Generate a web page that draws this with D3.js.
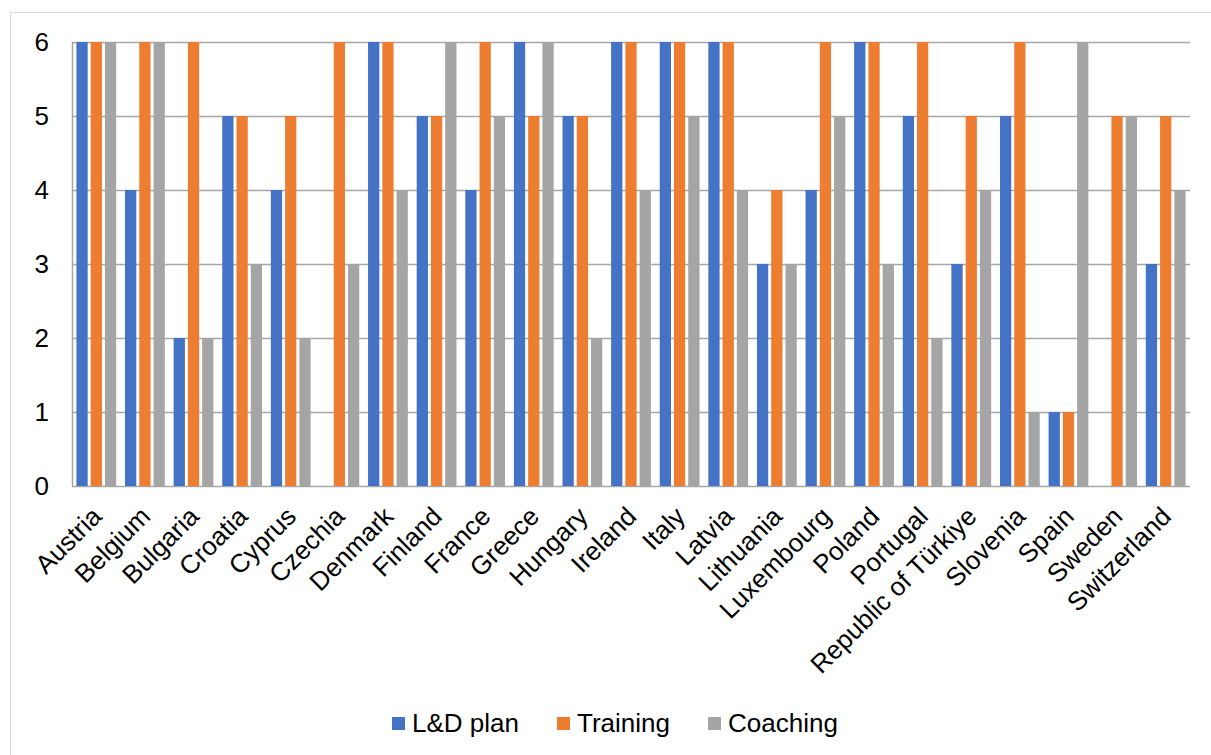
<!DOCTYPE html>
<html><head><meta charset="utf-8">
<script src="https://cdn.jsdelivr.net/npm/d3@7"></script>
<style>html,body{margin:0;padding:0;background:#fff;}svg{display:block;font-family:Arial,"Liberation Sans",sans-serif;}</style>
</head><body>
<script>
const categories = ["Austria","Belgium","Bulgaria","Croatia","Cyprus","Czechia","Denmark","Finland","France","Greece","Hungary","Ireland","Italy","Latvia","Lithuania","Luxembourg","Poland","Portugal","Republic of Türkiye","Slovenia","Spain","Sweden","Switzerland"];
const seriesNames = ["L&D plan","Training","Coaching"];
const ldPlan   = [6,4,2,5,4,0,6,5,4,6,5,6,6,6,3,4,6,5,3,5,1,0,3];
const training = [6,6,6,5,5,6,6,5,6,5,5,6,6,6,4,6,6,6,5,6,1,5,5];
const coaching = [6,6,2,3,2,3,4,6,5,6,2,4,5,4,3,5,3,2,4,1,6,5,4];
const yTicks = [0,1,2,3,4,5,6];
const colors = ["#4472C4","#ED7D31","#A5A5A5"];
const seriesValues = [ldPlan, training, coaching];

(function(){
const W = 1211, H = 755;
const svg = d3.select("body").append("svg").attr("width", W).attr("height", H);

// outer chart border
svg.append("rect").attr("x",10.5).attr("y",12.5).attr("width",1220).attr("height",800)
  .attr("fill","none").attr("stroke","#d9d9d9").attr("stroke-width",1);

const pL = 72, pR = 1190, pT = 42, pB = 486;
const x = d3.scaleBand().domain(categories).range([pL, pR]).paddingInner(0).paddingOuter(0);
const x1 = d3.scaleBand().domain(seriesNames).range([0, x.bandwidth()]).paddingOuter(0.31).paddingInner(0.21);
const y = d3.scaleLinear().domain([0,6]).range([pB, pT]);

// gridlines
svg.append("g").selectAll("line").data(yTicks).join("line")
  .attr("x1", pL).attr("x2", pR)
  .attr("y1", d => Math.round(y(d))+0.5).attr("y2", d => Math.round(y(d))+0.5)
  .attr("stroke", "#a6a6a6").attr("stroke-width", 1.5);
// left axis line
svg.append("line").attr("x1",pL+0.5).attr("x2",pL+0.5).attr("y1",pT).attr("y2",pB)
  .attr("stroke","#a6a6a6").attr("stroke-width",1.5);

// y tick labels
svg.append("g").selectAll("text").data(yTicks).join("text")
  .attr("x", 49).attr("y", d => y(d)).attr("dy","0.36em")
  .attr("text-anchor","end").attr("font-size", 26).attr("fill","#000").text(d => d);

// bars
const rows = categories.map((c,i) => ({c, vals: seriesNames.map((s,j) => ({s, j, v: seriesValues[j][i]}))}));
const g = svg.append("g").selectAll("g").data(rows).join("g")
  .attr("transform", d => `translate(${x(d.c)},0)`);
g.selectAll("rect").data(d => d.vals.filter(v => v.v > 0)).join("rect")
  .attr("x", d => x1(d.s)).attr("width", x1.bandwidth())
  .attr("y", d => y(d.v)).attr("height", d => y(0) - y(d.v))
  .attr("fill", d => colors[d.j]);

// category labels
svg.append("g").selectAll("text").data(categories).join("text")
  .attr("transform", d => `translate(${x(d) + x.bandwidth()/2 + 7},${518}) rotate(-45)`)
  .attr("text-anchor","end").attr("font-size", 26).attr("fill","#000").text(d => d);

// legend
const legendX = [392, 557, 708];
const lg = svg.append("g").selectAll("g").data(seriesNames).join("g")
  .attr("transform", (d,i) => `translate(${legendX[i]},717)`);
lg.append("rect").attr("width",13).attr("height",13).attr("fill",(d,i)=>colors[i]);
lg.append("text").attr("x",20).attr("y",15).attr("font-size",26).attr("fill","#000").text(d => d);
})();
</script>
</body></html>
